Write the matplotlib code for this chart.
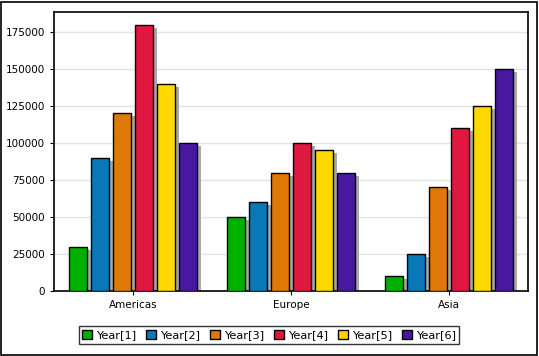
import numpy as np
import matplotlib.pyplot as plt
from matplotlib.patches import Rectangle

# data
regions = ['Americas', 'Europe', 'Asia']
series = ['Year[1]', 'Year[2]', 'Year[3]', 'Year[4]', 'Year[5]', 'Year[6]']
values = [
    [30000, 50000, 10000],
    [90000, 60000, 25000],
    [120000, 80000, 70000],
    [180000, 100000, 110000],
    [140000, 95000, 125000],
    [100000, 80000, 150000],
]
colors = ['#00b000', '#0878b8', '#e07808', '#e01840', '#ffd800', '#4818a0']

W, H = 539, 356
fig = plt.figure(figsize=(W / 100, H / 100), dpi=100)
fig.patches.append(Rectangle((1 / W, 1 / H), 1 - 3 / W, 1 - 3 / H, transform=fig.transFigure,
                             fill=False, edgecolor='black', linewidth=1.2))

ax = fig.add_axes([54 / W, 1 - 291 / H, (528 - 54) / W, (291 - 12) / H])

x = np.arange(len(regions))
bw = 0.116
step = 0.139
# shadow offset in data units (about 3.5px right, 3px down)
dx = 3 / 474 * 3.5
dy = 188500 / 279 * 3

for i, (name, vals) in enumerate(zip(series, values)):
    pos = x + (i - 2.5) * step
    ax.bar(pos + dx, np.array(vals) - dy, bottom=0, width=bw, color='#a8a8a8',
           linewidth=0, zorder=2)
    ax.bar(pos, vals, width=bw, color=colors[i], edgecolor='black', linewidth=1.0,
           label=name, zorder=3)

ax.set_xlim(-0.5, 2.5)
ax.set_ylim(0, 188500)
ax.set_yticks(np.arange(0, 175001, 25000))
ax.set_xticks(x)
ax.set_xticklabels(regions)
ax.tick_params(labelsize=7.5, length=3, width=0.8)
ax.yaxis.grid(True, color='#e2e2e2', linewidth=1.0, zorder=0)
ax.set_axisbelow(True)
for s in ax.spines.values():
    s.set_linewidth(1.2)

leg = fig.legend(loc='center', bbox_to_anchor=(269 / W, 1 - 335 / H), ncol=6,
                 fontsize=8.2, frameon=True, fancybox=False, edgecolor='black',
                 handlelength=0.9, handleheight=0.9, handletextpad=0.3,
                 columnspacing=0.9, borderpad=0.3, borderaxespad=0)
leg.get_frame().set_linewidth(1.0)

fig.savefig('out.png', dpi=100)
